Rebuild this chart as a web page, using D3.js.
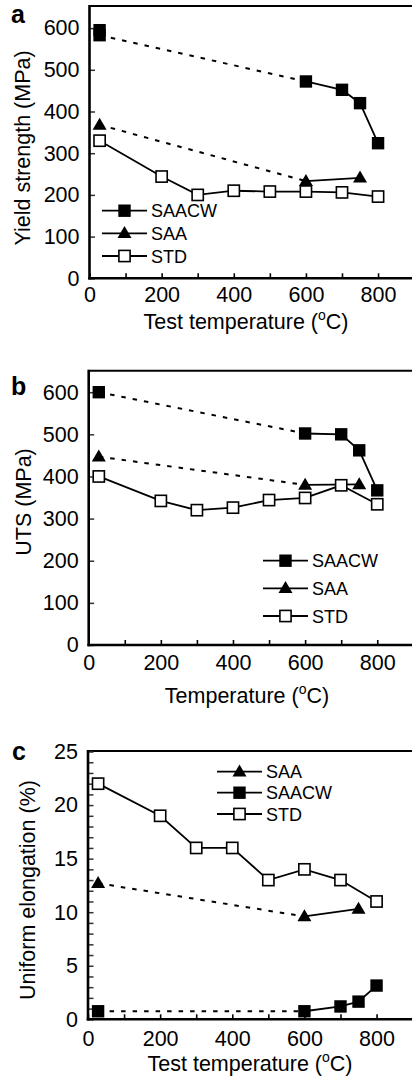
<!DOCTYPE html>
<html><head><meta charset="utf-8">
<script src="https://cdn.jsdelivr.net/npm/d3@7"></script>
<style>
body{margin:0;background:#fff;}
svg{display:block;font-family:"Liberation Sans",Arial,sans-serif;}
</style></head>
<body>
<svg id="chart" width="412" height="1082"></svg>
<script>
// ---------- data ----------
const stdTemps = [28, 200, 300, 400, 500, 600, 700, 800];

// (a) yield strength (MPa)
const ysSAACWTemps = [28, 28, 600, 700, 750, 800];
const ysSAACW      = [595, 583, 472, 452, 420, 324];
const ysSAATemps   = [28, 600, 750];
const ysSAA        = [368, 233, 241];
const ysSTD        = [330, 244, 200, 210, 208, 208, 206, 196];

// (b) UTS (MPa)
const utsSAACWTemps = [28, 600, 700, 750, 800];
const utsSAACW      = [600, 502, 500, 462, 367];
const utsSAATemps   = [28, 600, 750];
const utsSAA        = [447, 380, 381];
const utsSTD        = [400, 342, 320, 326, 344, 349, 379, 334];

// (c) uniform elongation (%)
const ueSAACWTemps = [28, 600, 700, 750, 800];
const ueSAACW      = [0.75, 0.75, 1.2, 1.65, 3.15];
const ueSAATemps   = [28, 600, 750];
const ueSAA        = [12.7, 9.6, 10.3];
const ueSTD        = [22, 19, 16, 16, 13, 14, 13, 11];

const xTicksMajor = [0, 200, 400, 600, 800];
const xTicksAll   = [0, 100, 200, 300, 400, 500, 600, 700, 800];
const strengthTicks = [0, 100, 200, 300, 400, 500, 600];
const ueTicksMajor = [0, 5, 10, 15, 20, 25];
const ueTicksMinor = d3.range(0, 26, 1);

// ---------- drawing ----------
const svg = d3.select("#chart");
const FS = 21.5;

function marker(g, type, x, y) {
  if (type === "sq") {
    g.append("rect").attr("x", x - 6.2).attr("y", y - 6.2).attr("width", 12.4).attr("height", 12.4).attr("fill", "#000");
  } else if (type === "osq") {
    g.append("rect").attr("x", x - 5.6).attr("y", y - 5.6).attr("width", 11.2).attr("height", 11.2)
      .attr("fill", "#fff").attr("stroke", "#000").attr("stroke-width", 1.6);
  } else {
    const s = 14, h = 12;
    g.append("path").attr("d", `M${x},${y - h * 0.6}L${x + s / 2},${y + h * 0.4}L${x - s / 2},${y + h * 0.4}Z`).attr("fill", "#000");
  }
}

function drawPanel(cfg) {
  const g = svg.append("g");
  const x = d3.scaleLinear().domain([0, 900]).range([cfg.left, cfg.left + 900 * 0.3607]);
  const y = d3.scaleLinear().domain(cfg.ydomain).range([cfg.bottom, cfg.top]);

  // frame top line
  g.append("line").attr("x1", cfg.left).attr("x2", x(900)).attr("y1", cfg.top).attr("y2", cfg.top)
    .attr("stroke", "#000").attr("stroke-width", 2);

  // x axis
  const xa = g.append("g").attr("transform", `translate(0,${cfg.bottom})`)
    .call(d3.axisBottom(x).tickValues(xTicksAll).tickSize(-5).tickPadding(cfg.xPad)
      .tickFormat(d => xTicksMajor.includes(d) ? d : ""));
  xa.select(".domain").remove();
  xa.selectAll("line").attr("stroke-width", 1.6);
  xa.selectAll("text").attr("font-size", FS).attr("fill", "#000").attr("font-family", "Liberation Sans, Arial, sans-serif");

  // y axis
  const ya = g.append("g").attr("transform", `translate(${cfg.left},0)`)
    .call(d3.axisLeft(y).tickValues(cfg.yMinor).tickSize(-5.5).tickPadding(10)
      .tickFormat(d => cfg.yMajor.includes(d) ? d : ""));
  ya.select(".domain").remove();
  ya.selectAll("line").attr("stroke-width", 1.5).attr("stroke", "#333");
  ya.selectAll("text").attr("font-size", FS).attr("fill", "#000").attr("font-family", "Liberation Sans, Arial, sans-serif");

  g.append("line").attr("x1", cfg.left).attr("x2", cfg.left).attr("y1", cfg.top - 1).attr("y2", cfg.bottom + 1.2)
    .attr("stroke", "#000").attr("stroke-width", 2.6);
  g.append("line").attr("x1", cfg.left - 1.3).attr("x2", x(900)).attr("y1", cfg.bottom).attr("y2", cfg.bottom)
    .attr("stroke", "#000").attr("stroke-width", 2.6);

  // series
  const line = d3.line().x(d => x(d[0])).y(d => y(d[1]));
  cfg.series.forEach(s => {
    const pts = s.temps.map((t, i) => [t, s.vals[i]]);
    const hot = pts.filter(p => p[0] >= 600);
    const rt = pts.filter(p => p[0] < 100);
    if (s.dotted) {
      g.append("path").attr("d", line([rt[rt.length - 1], hot[0]])).attr("fill", "none")
        .attr("stroke", "#000").attr("stroke-width", 2).attr("stroke-dasharray", "4.5,7");
      g.append("path").attr("d", line(hot)).attr("fill", "none").attr("stroke", "#000").attr("stroke-width", 1.8);
    } else {
      g.append("path").attr("d", line(pts)).attr("fill", "none").attr("stroke", "#000").attr("stroke-width", 1.8);
    }
  });
  cfg.series.forEach(s => {
    s.temps.forEach((t, i) => marker(g, s.type, x(t), y(s.vals[i])));
  });

  // legend
  cfg.legend.forEach((l, i) => {
    const ly = cfg.legY[i];
    g.append("line").attr("x1", cfg.legX).attr("x2", cfg.legX + 45).attr("y1", ly).attr("y2", ly)
      .attr("stroke", "#000").attr("stroke-width", 1.8);
    marker(g, l.type, cfg.legX + 22.5, ly);
    g.append("text").attr("x", cfg.legX + 49).attr("y", ly + 6.5).attr("font-size", 18).text(l.name);
  });

  // panel letter
  g.append("text").attr("x", cfg.letX).attr("y", cfg.letY).attr("font-size", 25).attr("font-weight", "bold").text(cfg.letter);

  // y title
  g.append("text").attr("transform", `translate(${cfg.yTitleX},${cfg.yTitleY}) rotate(-90)`)
    .attr("text-anchor", "middle").attr("font-size", FS).text(cfg.yTitle);

  // x title with superscript o
  const xt = g.append("text").attr("x", cfg.xTitleX).attr("y", cfg.xTitleY).attr("text-anchor", "middle").attr("font-size", FS);
  xt.append("tspan").text(cfg.xTitle + " (");
  xt.append("tspan").attr("font-size", 14).attr("dy", -9).text("o");
  xt.append("tspan").attr("dy", 9).text("C)");
}

drawPanel({
  letter: "a", letX: 11, letY: 23,
  left: 89.5, top: 6, bottom: 278.3, ydomain: [0, 653],
  yMajor: strengthTicks, yMinor: strengthTicks, xPad: 8,
  yTitle: "Yield strength (MPa)", yTitleX: 30, yTitleY: 148,
  xTitle: "Test temperature", xTitleX: 246, xTitleY: 329,
  series: [
    {temps: ysSAACWTemps, vals: ysSAACW, type: "sq", dotted: true},
    {temps: ysSAATemps, vals: ysSAA, type: "tri", dotted: true},
    {temps: stdTemps, vals: ysSTD, type: "osq", dotted: false}
  ],
  legend: [{name: "SAACW", type: "sq"}, {name: "SAA", type: "tri"}, {name: "STD", type: "osq"}],
  legX: 102, legY: [210.7, 233.3, 256]
});

drawPanel({
  letter: "b", letX: 11, letY: 395,
  left: 88.7, top: 370.7, bottom: 645, ydomain: [0, 651],
  yMajor: strengthTicks, yMinor: strengthTicks, xPad: 10,
  yTitle: "UTS (MPa)", yTitleX: 31, yTitleY: 502,
  xTitle: "Temperature", xTitleX: 247, xTitleY: 703,
  series: [
    {temps: utsSAACWTemps, vals: utsSAACW, type: "sq", dotted: true},
    {temps: utsSAATemps, vals: utsSAA, type: "tri", dotted: true},
    {temps: stdTemps, vals: utsSTD, type: "osq", dotted: false}
  ],
  legend: [{name: "SAACW", type: "sq"}, {name: "SAA", type: "tri"}, {name: "STD", type: "osq"}],
  legX: 263, legY: [560.7, 588.3, 616]
});

drawPanel({
  letter: "c", letX: 12, letY: 760,
  left: 88, top: 751, bottom: 1019.3, ydomain: [0, 25.05],
  yMajor: ueTicksMajor, yMinor: ueTicksMinor, xPad: 11,
  yTitle: "Uniform elongation (%)", yTitleX: 35, yTitleY: 890,
  xTitle: "Test temperature", xTitleX: 250, xTitleY: 1071,
  series: [
    {temps: ueSAACWTemps, vals: ueSAACW, type: "sq", dotted: true},
    {temps: ueSAATemps, vals: ueSAA, type: "tri", dotted: true},
    {temps: stdTemps, vals: ueSTD, type: "osq", dotted: false}
  ],
  legend: [{name: "SAA", type: "tri"}, {name: "SAACW", type: "sq"}, {name: "STD", type: "osq"}],
  legX: 217, legY: [771.7, 792.7, 814]
});
</script>
</body></html>
